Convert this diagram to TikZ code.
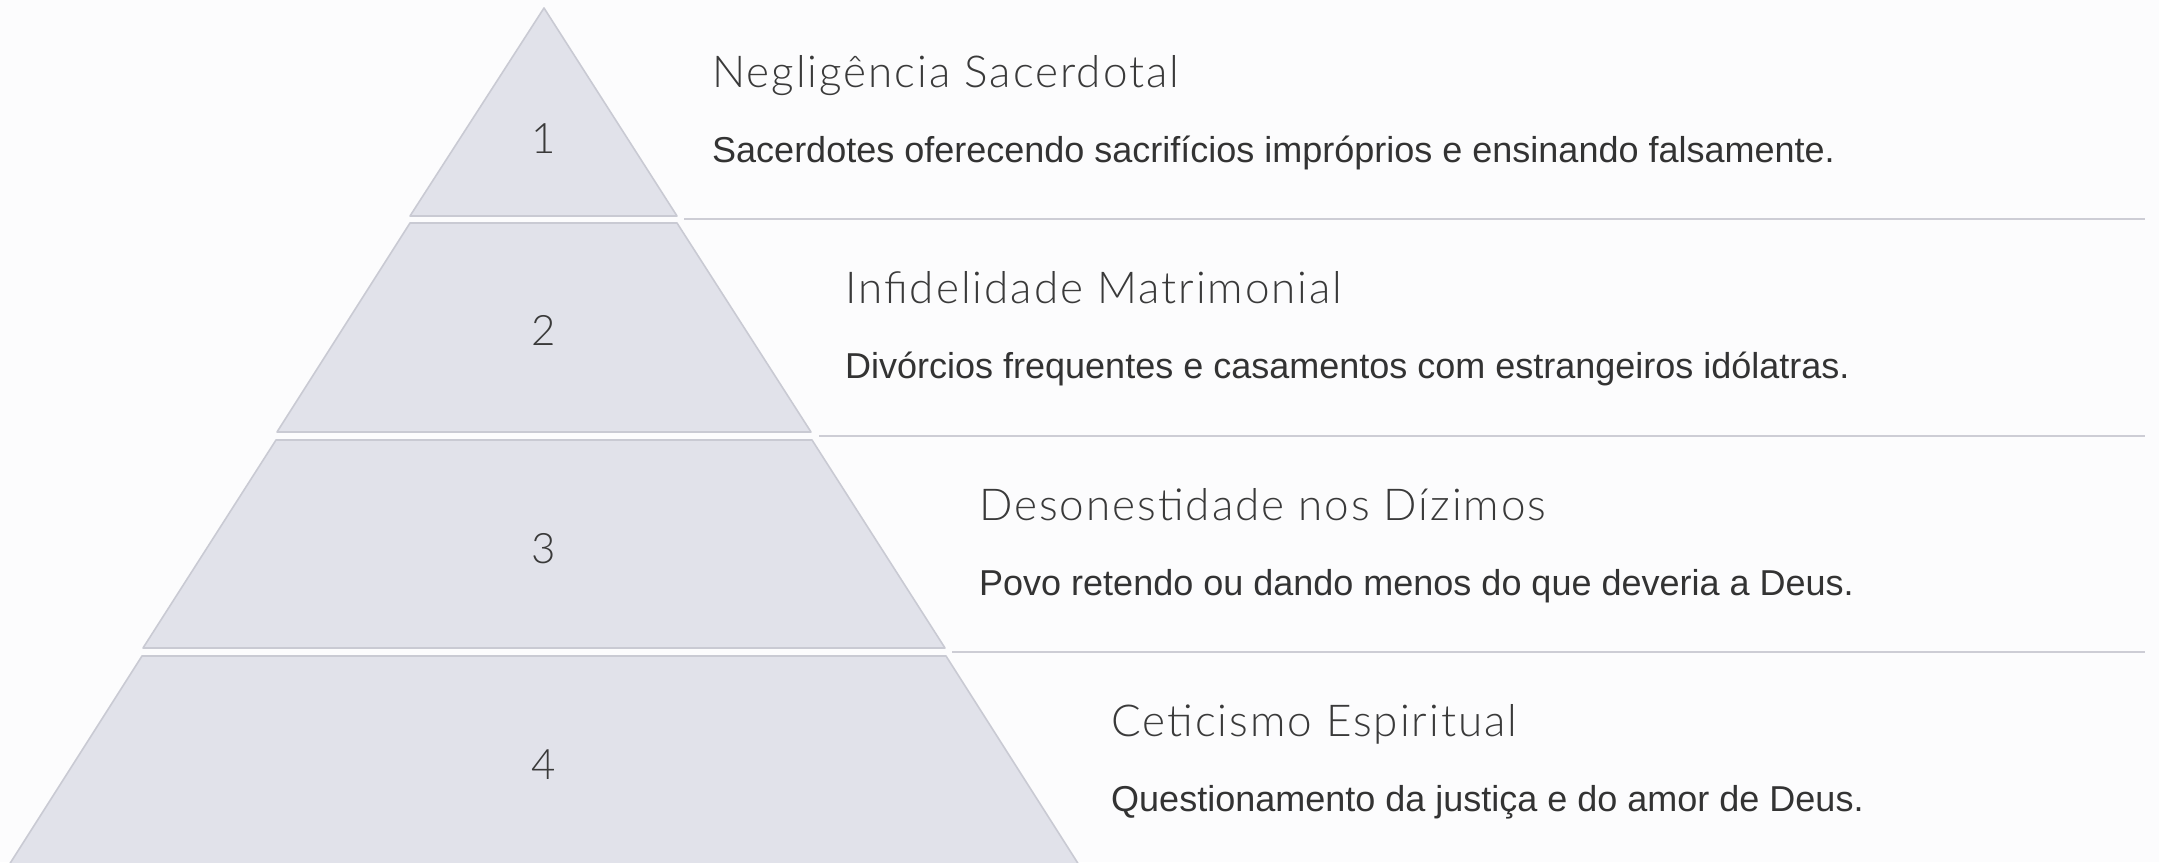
\documentclass[tikz,border=0pt]{standalone}
\usepackage{fontspec}
\setmainfont{Liberation Sans}
\newfontfamily\headfont[LetterSpace=4.5]{Lato Light}
\usetikzlibrary{positioning}
\definecolor{bgcol}{HTML}{FCFCFD}
\definecolor{layerfill}{HTML}{E1E2EA}
\definecolor{layerline}{HTML}{C9CAD3}
\definecolor{rulecol}{HTML}{CDCDD5}
\definecolor{headcol}{HTML}{3A3A3A}
\definecolor{desccol}{HTML}{333333}
\begin{document}
\begin{tikzpicture}[x=1pt, y=-1pt, layer/.style = {fill=layerfill, draw=layerline, line width=1.6pt, line join=round}, rule/.style = {draw=rulecol, line width=2pt}, num/.style = {font=\headfont\fontsize{42}{50}\selectfont, text=headcol}, head/.style = {anchor=base west, inner sep=0pt, font=\headfont\fontsize{44}{52}\selectfont, text=headcol}, desc/.style = {anchor=base west, inner sep=0pt, font=\fontsize{36}{43}\selectfont, text=desccol}, node distance = 75pt]
			\fill[bgcol] (0,0) rectangle (2159,862);
			\useasboundingbox (0,0) rectangle (2159,862);
			
			% pyramid layers
			\path[layer] (544,8) -- (677,216) -- (410,216) -- cycle;
			\path[layer] (410,223) -- (677,223) -- (811,432) -- (277,432) -- cycle;
			\path[layer] (276,440) -- (812,440) -- (945,648) -- (143,648) -- cycle;
			\path[layer] (142,656) -- (946,656) -- (1079,865) -- (9,865) -- cycle;
			
			% separators
			\path[rule] (684,219) -- (2145,219);
			\path[rule] (819,436) -- (2145,436);
			\path[rule] (952,652) -- (2145,652);
			
			\node[num] (n1) at (544,139) {1};
			\node[num] (n2) at (544,330) {2};
			\node[num] (n3) at (544,549) {3};
			\node[num] (n4) at (544,765) {4};
			
			\node[head] (negligence) at (712,87) {Negligência Sacerdotal};
			\node[desc,below=of negligence.base west,anchor=base west] (negligencetxt) {Sacerdotes oferecendo sacrifícios impróprios e ensinando falsamente.};
			\node[head] (infidelity) at (845,303) {Infidelidade Matrimonial};
			\node[desc,below=of infidelity.base west,anchor=base west] (infidelitytxt) {Divórcios frequentes e casamentos com estrangeiros idólatras.};
			\node[head] (dishonesty) at (979,520) {Desonestidade nos Dízimos};
			\node[desc,below=of dishonesty.base west,anchor=base west] (dishonestytxt) {Povo retendo ou dando menos do que deveria a Deus.};
			\node[head] (skepticism) at (1111,736) {Ceticismo Espiritual};
			\node[desc,below=of skepticism.base west,anchor=base west] (skepticismtxt) {Questionamento da justiça e do amor de Deus.};
\end{tikzpicture}
\end{document}
